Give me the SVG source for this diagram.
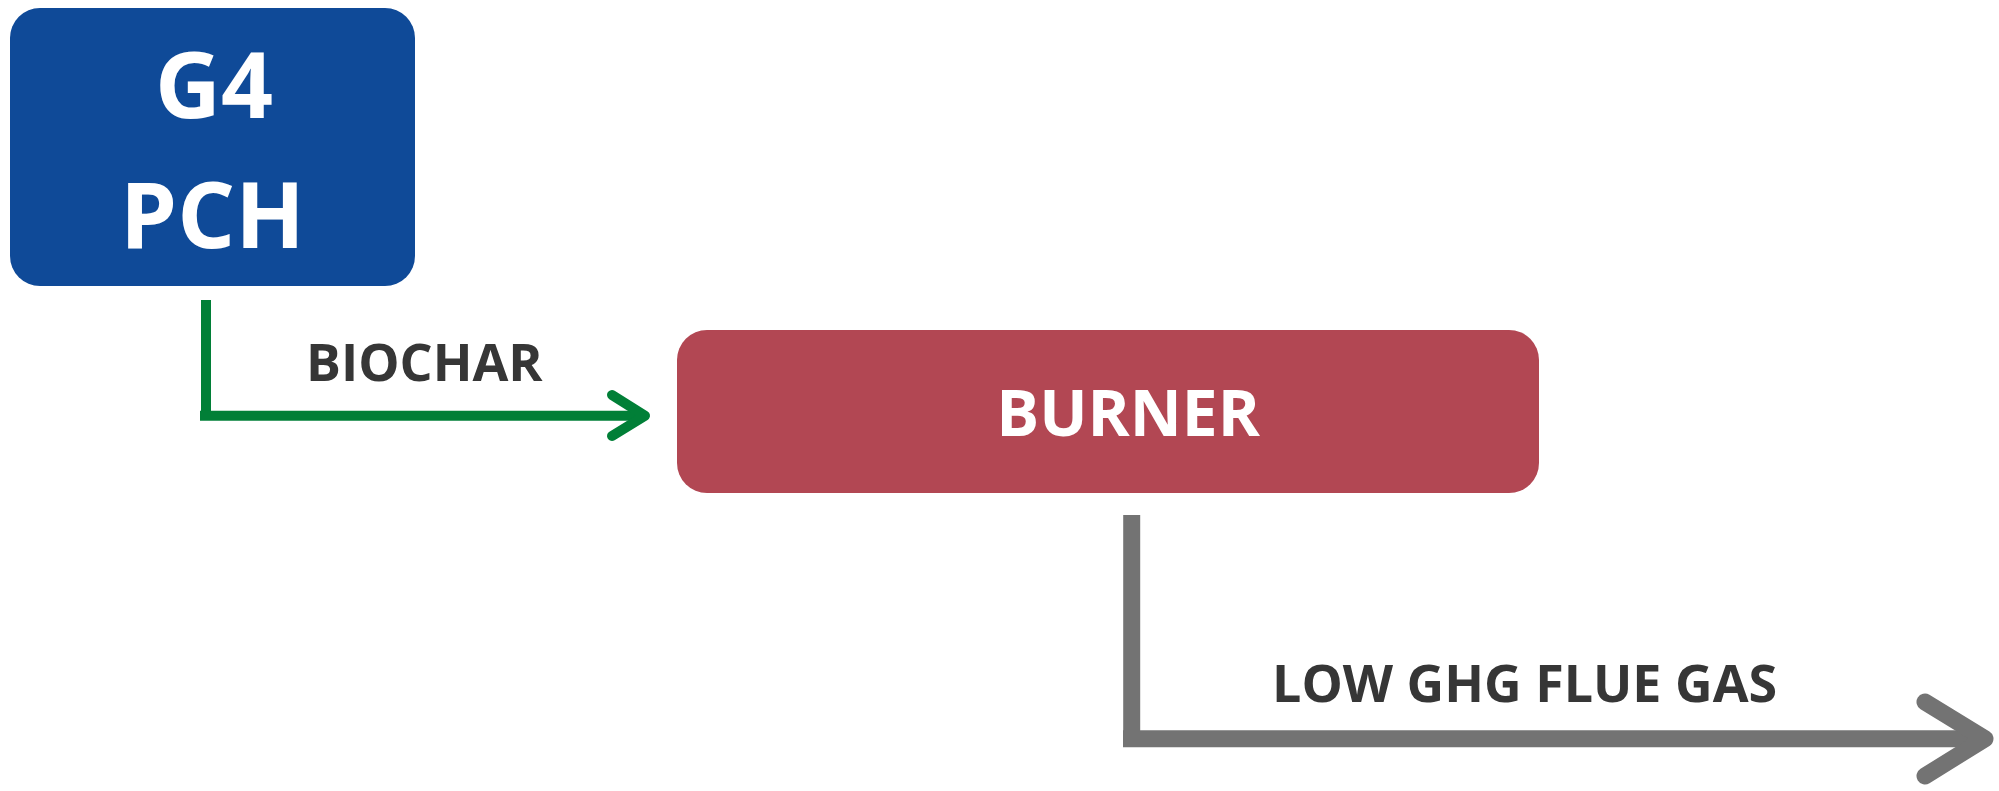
<svg xmlns="http://www.w3.org/2000/svg" width="1999" height="791" viewBox="0 0 1999 791">
<style>
.lbl{font-family:"Open Sans","Noto Sans","Liberation Sans",sans-serif;font-weight:700;fill:#363636}
.nt{font-family:"Open Sans","Noto Sans","Liberation Sans",sans-serif;font-weight:700;fill:#ffffff;text-anchor:middle}
.g{fill:none;stroke:#017f37;stroke-width:10}
.k{fill:none;stroke:#737373;stroke-width:17}
</style>
<rect width="1999" height="791" fill="#ffffff"/>
<g id="node-g4pch">
<rect x="10" y="8" width="405" height="278" rx="30" ry="30" fill="#0f4a98"/>
<text class="nt" x="214" y="118" font-size="91">G4</text>
<text class="nt" x="212.5" y="248" font-size="91">PCH</text>
</g>
<g id="node-burner">
<rect x="677" y="330" width="862" height="163" rx="30" ry="30" fill="#b24753"/>
<text class="nt" x="1128" y="436" font-size="64">BURNER</text>
</g>
<g id="connectors">
<path class="g" d="M206 300 V420"/>
<path class="g" d="M200 415.7 H642"/>
<polyline class="g" points="612,395 645,415.7 612,436" stroke-linecap="round" stroke-linejoin="round"/>
<path class="k" d="M1131.7 515 V745" stroke-width="18"/>
<path class="k" d="M1123 738.7 H1982" stroke-width="16"/>
<polyline class="k" points="1925,702 1985,738.7 1925,776" stroke-width="16" stroke-linecap="round" stroke-linejoin="round"/>
<text class="lbl" x="306" y="381" font-size="52">BIOCHAR</text>
<text class="lbl" x="1272" y="702" font-size="52">LOW GHG FLUE GAS</text>
</g>
</svg>
